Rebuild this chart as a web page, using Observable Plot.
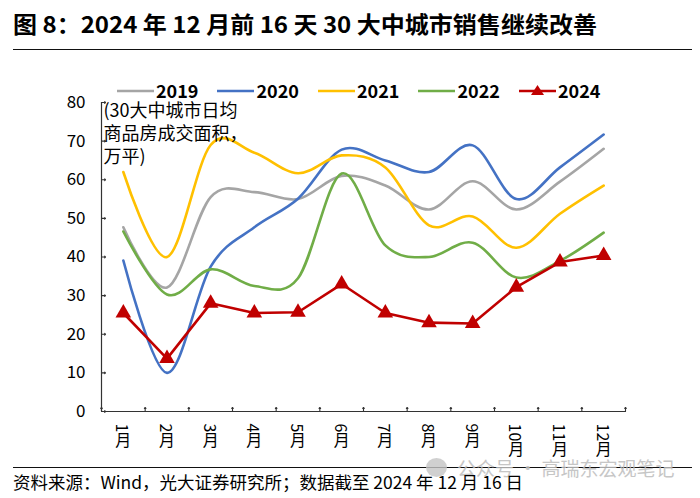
<!DOCTYPE html>
<html><head><meta charset="utf-8">
<script src="https://cdn.jsdelivr.net/npm/d3@7"></script>
<script src="https://cdn.jsdelivr.net/npm/@observablehq/plot@0.6"></script>
<style>
body{margin:0;background:#fff;font-family:"Noto Sans CJK SC","Noto Sans",sans-serif;}
#wrap{position:relative;width:700px;height:498px;overflow:hidden;background:#fff;}
#chart{position:absolute;left:0;top:0;}
.title{position:absolute;left:13px;top:8px;font-size:23px;line-height:30px;font-weight:700;color:#000;white-space:nowrap;transform-origin:left center;}
.rule{position:absolute;left:13px;width:679px;height:0;border-top:1.6px solid #111;}
.foot{position:absolute;left:13px;top:472px;font-size:17px;line-height:20px;color:#000;white-space:nowrap;transform-origin:left center;}
.wm{position:absolute;left:457px;top:456px;font-size:19px;line-height:24px;color:#bdbdbd;white-space:nowrap;opacity:0.85;}
.wmicon{position:absolute;left:426px;top:458px;width:21px;height:19px;border-radius:50%;background:#c4c4c4;opacity:0.8;}
#legend{position:absolute;left:117px;top:78px;height:24px;display:flex;align-items:center;font-size:18px;font-weight:700;color:#000;}
#legend .item{display:flex;align-items:center;margin-right:19px;}
#legend svg{margin-right:2px;}
</style></head>
<body>
<div id="wrap">
  <div id="chart"></div>
  <div class="title" id="title">图 8：2024 年 12 月前 16 天 30 大中城市销售继续改善</div>
  <div class="rule" style="top:49px"></div>
  <div id="legend"></div>
  <div class="rule" style="top:467px"></div>
  <div class="wmicon"></div>
  <div class="wm">公众号 · 高瑞东宏观笔记</div>
  <div class="foot" id="foot">资料来源：Wind，光大证券研究所；数据截至 2024 年 12 月 16 日</div>
</div>
<script>
// ---- data ----
const monthLabels = ["1月","2月","3月","4月","5月","6月","7月","8月","9月","10月","11月","12月"];
const monthIdx = [1,2,3,4,5,6,7,8,9,10,11,12];
const seriesNames = ["2019","2020","2021","2022","2024"];
const seriesColors = ["#A5A5A5","#4472C4","#FFC000","#70AD47","#C00000"];
const v2019 = [47.7, 32.1, 55.5, 56.8, 55.0, 61.0, 58.5, 52.3, 59.6, 52.3, 59.5, 68.0];
const v2020 = [39.1, 10.0, 37.5, 47.7, 55.1, 67.8, 65.0, 62.0, 68.9, 55.0, 63.2, 71.7];
const v2021 = [62.0, 40.0, 69.0, 67.0, 61.7, 66.3, 63.2, 48.2, 50.5, 42.4, 51.2, 58.5];
const v2022 = [46.6, 30.3, 36.8, 32.5, 34.5, 61.6, 43.0, 40.0, 43.7, 34.7, 39.0, 46.3];
const v2024 = [25.5, 13.7, 28.0, 25.5, 25.7, 33.0, 25.5, 23.0, 22.8, 32.2, 38.7, 40.4];
const yTicks = [0,10,20,30,40,50,60,70,80];
const yLabel = "(30大中城市日均\n商品房成交面积，\n万平)";

const seriesValues = [v2019, v2020, v2021, v2022, v2024];
const rows = seriesNames.flatMap((s, k) => seriesValues[k].map((v, i) => ({series: s, month: monthIdx[i], value: v})));
const smoothRows = rows.filter(d => d.series !== "2024");
const redRows = rows.filter(d => d.series === "2024");
const boundaries = [0, ...monthIdx].map(m => m + 0.5);
const axisColor = "#333";

const plot = Plot.plot({
  width: 700, height: 498,
  marginTop: 102, marginBottom: 87, marginLeft: 101, marginRight: 75,
  style: {fontFamily: '"Noto Sans CJK SC","Noto Sans",sans-serif', color: "#000", background: "transparent"},
  x: {type: "linear", domain: [0.5, 12.5]},
  y: {domain: [0, 80]},
  color: {domain: seriesNames, range: seriesColors},
  marks: [
    Plot.axisY({ticks: yTicks, tickSize: 0, tickPadding: 16, fontSize: 17, label: null}),
    Plot.axisX({ticks: monthIdx, tickSize: 0, tickPadding: 12, fontSize: 16, label: null, tickFormat: d => monthLabels[d - 1]}),
    Plot.line(smoothRows, {x: "month", y: "value", z: "series", stroke: "series", curve: "cardinal", strokeWidth: 2.6}),
    Plot.line(redRows, {x: "month", y: "value", stroke: "series", strokeWidth: 2.6}),
    Plot.dot(redRows, {x: "month", y: "value", symbol: "triangle", r: 5.8, fill: "series", stroke: "none"}),
    Plot.ruleX([0.5], {stroke: axisColor, strokeWidth: 1.2}),
    Plot.ruleY([0], {stroke: axisColor, strokeWidth: 1.2}),
    Plot.vector(boundaries, {x: d => d, y: d => 0, rotate: 0, length: 4, anchor: "start", stroke: axisColor, strokeWidth: 1.1}),
    Plot.vector(yTicks, {x: d => 0.5, y: d => d, rotate: 90, length: 4, anchor: "start", stroke: axisColor, strokeWidth: 1.1}),
    Plot.text([yLabel], {frameAnchor: "top-left", dx: 2, dy: -2, textAnchor: "start", lineAnchor: "top", lineHeight: 1.28, fontSize: 18, fill: "#000"})
  ]
});
document.getElementById("chart").appendChild(plot);

// vertical month labels: CJK upright, digits rotated
plot.querySelectorAll('g[aria-label="x-axis tick label"] text').forEach(t => {
  t.removeAttribute("y");
  t.setAttribute("writing-mode", "vertical-rl");
  t.setAttribute("text-anchor", "start");
  t.style.textOrientation = "mixed";
});

// legend
const legend = document.getElementById("legend");
seriesNames.forEach((s, k) => {
  const item = document.createElement("div");
  item.className = "item";
  const c = seriesColors[k];
  const tri = s === "2024" ? `<path d="M18.5,5 L25,15 L12,15 Z" fill="${c}"/>` : "";
  item.innerHTML = `<svg width="37" height="20"><line x1="0" x2="37" y1="11" y2="11" stroke="${c}" stroke-width="2.6"/>${tri}</svg><span>${s}</span>`;
  legend.appendChild(item);
});

// fit title / footer width to original
function fit(id, target) {
  const el = document.getElementById(id);
  const w = el.getBoundingClientRect().width;
  el.style.transform = `scaleX(${target / w})`;
}
fit("title", 584);
fit("foot", 510);
</script>
</body></html>
